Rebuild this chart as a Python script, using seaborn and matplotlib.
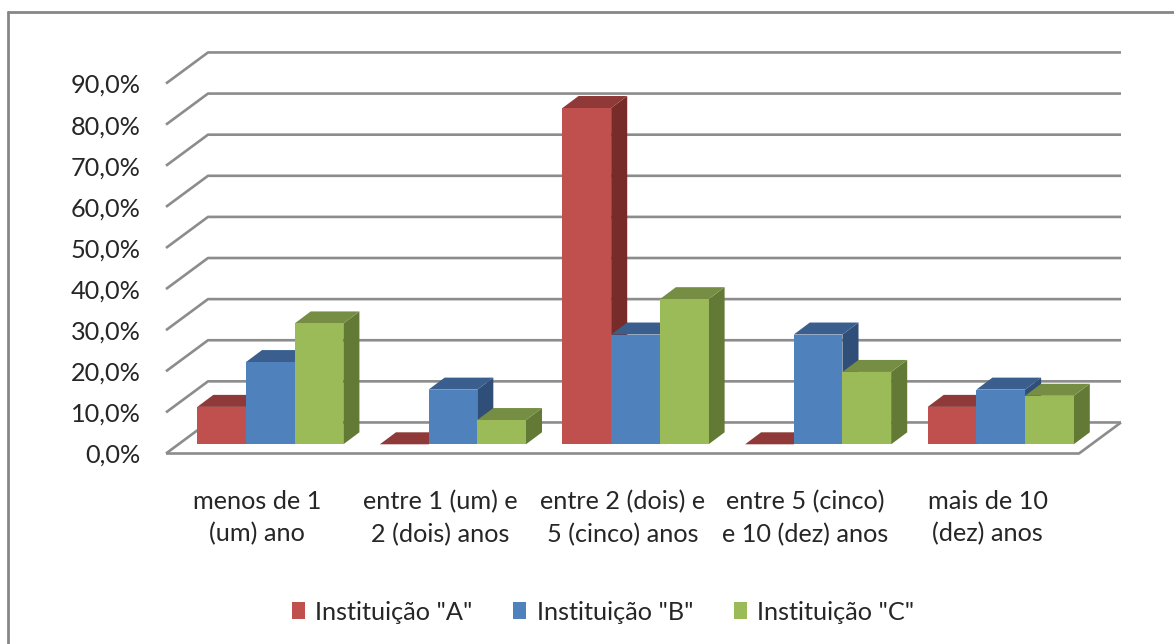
import matplotlib
matplotlib.use("Agg")
import matplotlib.pyplot as plt
from matplotlib.lines import Line2D
from matplotlib.patches import Polygon
import pandas as pd
import seaborn as sns

categories = ["menos de 1\n(um) ano", "entre 1 (um) e\n2 (dois) anos", "entre 2 (dois) e\n5 (cinco) anos",
              "entre 5 (cinco)\ne 10 (dez) anos", "mais de 10\n(dez) anos"]
institutions = ['Instituição "A"', 'Instituição "B"', 'Instituição "C"']
values_a = [9.1, 0.0, 81.8, 0.0, 9.1]
values_b = [20.0, 13.3, 26.7, 26.7, 13.3]
values_c = [29.4, 5.9, 35.3, 17.6, 11.8]
y_ticks = [0, 10, 20, 30, 40, 50, 60, 70, 80, 90]

W, H = 1174, 644
FRONT = "#C0504D", "#4F81BD", "#9BBB59"
TOP = "#8F3A38", "#3A5F8E", "#768E44"
SIDE = "#772C2A", "#2F4F78", "#637A36"
GRID = "#8C8C8C"
TEXT = "#262626"
FONT_SIZE = 18.2

sns.set_style("white")
plt.rcParams["font.family"] = ["Lato", "DejaVu Sans"]

df = pd.DataFrame({
    "category": categories * 3,
    "institution": [n for n in institutions for _ in categories],
    "value": values_a + values_b + values_c,
})

fig = plt.figure(figsize=(W / 100, H / 100), dpi=100, facecolor="white")


def box(left, right, y_bottom, y_top):
    return [left / W, 1 - y_bottom / H, (right - left) / W, (y_bottom - y_top) / H]


# Wall and floor plane: carries the axis labels and the receding grid lines.
ax_wall = fig.add_axes(box(166, 1079, 453.5, 83.5))
ax_wall.set_xlim(-0.5, 4.5)
ax_wall.set_ylim(0, 90)
ax_wall.patch.set_alpha(0)
for spine in ax_wall.spines.values():
    spine.set_visible(False)
ax_wall.set_yticks(y_ticks, [f"{v},0%" for v in y_ticks])
ax_wall.set_xticks(range(len(categories)), categories, linespacing=1.5)
ax_wall.tick_params(axis="y", length=0, pad=18, labelsize=FONT_SIZE, labelcolor=TEXT)
ax_wall.tick_params(axis="x", length=0, pad=26, labelsize=FONT_SIZE, labelcolor=TEXT)

wall_dx, wall_dy = 0.23, 7.55
line_style = dict(color=GRID, lw=1.9, clip_on=False, solid_capstyle="butt", zorder=1)
for v in y_ticks:
    ax_wall.plot([-0.5, -0.5 + wall_dx, 4.5 + wall_dx], [v, v + wall_dy, v + wall_dy], **line_style)
ax_wall.plot([-0.5, 4.5, 4.5 + wall_dx], [0, 0, wall_dy], **line_style)

# Bars stand on a plane set slightly back from the front edge of the floor.
ax_bars = fig.add_axes(box(179, 1092, 444.3, 74.3))
ax_bars.patch.set_alpha(0)
sns.barplot(data=df, x="category", y="value", hue="institution", order=categories,
            hue_order=institutions, palette=list(FRONT), saturation=1, width=0.8, gap=0,
            linewidth=0, ax=ax_bars)
ax_bars.set_xlim(-0.5, 4.5)
ax_bars.set_ylim(0, 90)
ax_bars.axis("off")

# Extrude every bar with a top and a side face, painted left to right.
bar_dx, bar_dy = 0.088, 2.92
for i, container in enumerate(ax_bars.containers):
    for j, bar in enumerate(container):
        x0, x1, h = bar.get_x(), bar.get_x() + bar.get_width(), bar.get_height()
        order = 3 + j * 10 + i * 3
        bar.set_zorder(order + 2)
        ax_bars.add_patch(Polygon([(x1, 0), (x1 + bar_dx, bar_dy), (x1 + bar_dx, h + bar_dy), (x1, h)],
                                  closed=True, fc=SIDE[i], ec="none", zorder=order, clip_on=False))
        ax_bars.add_patch(Polygon([(x0, h), (x0 + bar_dx, h + bar_dy), (x1 + bar_dx, h + bar_dy), (x1, h)],
                                  closed=True, fc=TOP[i], ec="none", zorder=order + 1, clip_on=False))

sns.move_legend(ax_bars, loc="center", bbox_to_anchor=(603 / W, 1 - 612 / H),
                bbox_transform=fig.transFigure, ncol=3, frameon=False, title=None,
                fontsize=FONT_SIZE, handlelength=0.52, handleheight=0.65, handletextpad=0.4,
                columnspacing=1.62, labelcolor=TEXT)

# Chart-area border; it runs off the right and bottom of the canvas.
border = dict(color="#868686", lw=2.0, transform=fig.transFigure)
fig.add_artist(Line2D([8 / W, 8 / W], [0, 1 - 12 / H], **border))
fig.add_artist(Line2D([8 / W, 1], [1 - 12 / H, 1 - 12 / H], **border))

fig.savefig("out.png", dpi=100, facecolor="white")
